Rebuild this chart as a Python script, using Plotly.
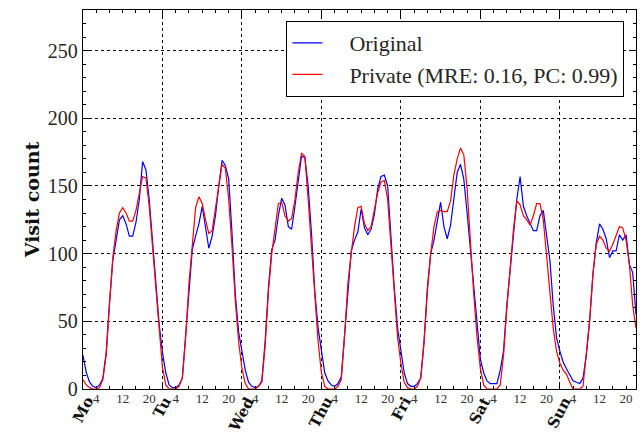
import plotly.graph_objects as go

# ---- data (hourly visit counts, Monday 0h .. Sunday 23h) ----
days = ["Mo", "Tu", "Wed", "Thu", "Fri", "Sat", "Sun"]
hour_marks = [4, 12, 20]

orig_mo = [25, 12, 5, 2, 1, 3, 8, 27, 64, 95, 110, 125, 128, 122, 113, 113, 123, 140, 168, 162, 140, 108, 75, 48]
orig_tu = [27, 12, 3, 1, 1, 3, 8, 40, 78, 103, 113, 122, 135, 118, 104, 113, 128, 150, 169, 165, 155, 115, 70, 42]
orig_we = [27, 14, 5, 2, 1, 2, 6, 35, 75, 103, 110, 128, 141, 136, 120, 118, 135, 155, 172, 171, 150, 115, 72, 45]
orig_th = [29, 12, 6, 3, 2, 4, 9, 40, 78, 102, 110, 116, 133, 119, 114, 118, 129, 148, 157, 158, 150, 112, 75, 45]
orig_fr = [27, 12, 4, 2, 2, 4, 8, 35, 75, 100, 110, 125, 138, 120, 111, 121, 140, 160, 166, 155, 130, 102, 72, 45]
orig_sa = [22, 12, 6, 4, 4, 4, 14, 28, 62, 90, 112, 140, 157, 135, 128, 122, 117, 117, 128, 132, 113, 95, 62, 38]
orig_su = [28, 20, 15, 10, 6, 5, 4, 8, 25, 50, 85, 108, 122, 118, 111, 97, 102, 102, 114, 110, 114, 92, 86, 55]

priv_mo = [7, 3, 1, 0, 0, 1, 7, 25, 62, 97, 117, 130, 134, 130, 124, 124, 132, 146, 157, 156, 135, 105, 72, 45]
priv_tu = [16, 3, 0, 0, 0, 2, 8, 38, 78, 106, 134, 142, 137, 125, 115, 117, 133, 152, 166, 163, 140, 105, 65, 35]
priv_we = [15, 4, 0, 0, 0, 2, 5, 32, 72, 100, 118, 137, 138, 128, 124, 126, 140, 160, 174, 172, 140, 105, 65, 35]
priv_th = [12, 2, 0, 0, 0, 2, 7, 40, 78, 100, 120, 134, 135, 122, 117, 120, 133, 145, 153, 154, 140, 105, 68, 38]
priv_fr = [19, 5, 1, 0, 0, 2, 8, 35, 72, 100, 120, 131, 132, 131, 131, 139, 158, 170, 178, 173, 148, 108, 70, 38]
priv_sa = [15, 3, 0, 0, 0, 0, 3, 25, 60, 92, 118, 139, 136, 128, 125, 121, 128, 137, 137, 125, 100, 72, 45, 28]
priv_su = [19, 14, 11, 5, 0, 0, 0, 2, 25, 51, 85, 107, 113, 110, 104, 102, 107, 113, 120, 119, 110, 92, 62, 45]

original = orig_mo + orig_tu + orig_we + orig_th + orig_fr + orig_sa + orig_su
private = priv_mo + priv_tu + priv_we + priv_th + priv_fr + priv_sa + priv_su
hours = list(range(len(original)))

SERIF = "Liberation Serif"
BOLD = "DejaVu Serif"
TXT = "#262626"
PAD = "\u00a0\u00a0\u00a0\u00a0"

fig = go.Figure()
fig.add_trace(go.Scatter(x=hours, y=original, mode="lines", name=PAD + "Original",
                         line=dict(color="#0000ff", width=1.2), legendgroup="a"))
fig.add_trace(go.Scatter(x=hours, y=private, mode="lines",
                         name=PAD + "Private (MRE: 0.16, PC: 0.99)",
                         line=dict(color="#ff0000", width=1.2), legendgroup="b"))
# helper trace so the hour-label axis is drawn
fig.add_trace(go.Scatter(x=[0, 167], y=[None, None], xaxis="x2", mode="lines",
                         showlegend=False, hoverinfo="skip"))

day_starts = [24 * i for i in range(len(days))]
hour_vals = [24 * d + h for d in range(len(days)) for h in hour_marks]
hour_text = [str(h) for d in range(len(days)) for h in hour_marks]

xr = [0, 167]
fig.update_layout(
    width=642, height=436,
    margin=dict(l=83, r=6, t=10, b=47),
    plot_bgcolor="white", paper_bgcolor="white",
    font=dict(family=SERIF, color=TXT),
    showlegend=True,
    legend=dict(x=0.979, y=0.971, xanchor="right", yanchor="top",
                bordercolor="black", borderwidth=1, bgcolor="white",
                font=dict(family=SERIF, size=22, color=TXT),
                tracegroupgap=0),
    xaxis=dict(range=xr, tickvals=day_starts, showticklabels=False,
               ticks="inside", ticklen=6, tickcolor="black",
               showgrid=True, gridcolor="black", griddash="dot", gridwidth=1,
               showline=True, linecolor="black", linewidth=1.3, mirror="ticks",
               zeroline=False,
               minor=dict(dtick=4, tick0=0, ticks="inside", ticklen=3,
                          tickcolor="black", showgrid=False)),
    xaxis2=dict(range=xr, overlaying="x", side="bottom", anchor="y",
                tickvals=hour_vals, ticktext=hour_text, ticks="",
                showgrid=False, zeroline=False, showline=False,
                tickfont=dict(family=SERIF, size=13, color="#333"),
                ticklabelstandoff=0),
    yaxis=dict(range=[0, 280], tickvals=[0, 50, 100, 150, 200, 250],
               ticks="inside", ticklen=6, tickcolor="black",
               showgrid=True, gridcolor="black", griddash="dot", gridwidth=1,
               showline=True, linecolor="black", linewidth=1.3, mirror="ticks",
               zeroline=False,
               tickfont=dict(family=SERIF, size=20, color=TXT),
               title=dict(text="<b>Visit count</b>", standoff=3,
                          font=dict(family=BOLD, size=19, color="#111")),
               minor=dict(dtick=10, ticks="inside", ticklen=3,
                          tickcolor="black", showgrid=False)),
)

for d, name in zip(day_starts, days):
    fig.add_annotation(x=d, xref="x", y=0, yref="paper", yshift=-2,
                       text="<b>" + name + "</b>", showarrow=False,
                       textangle=-62, xanchor="center", yanchor="top",
                       font=dict(family=BOLD, size=15, color="#111"))

fig.write_html("out.html")
